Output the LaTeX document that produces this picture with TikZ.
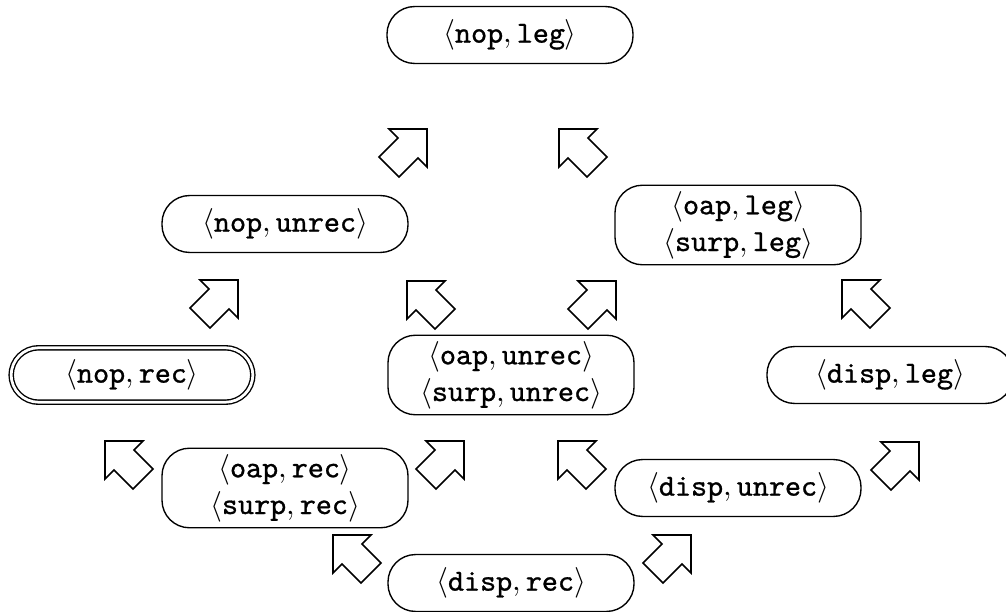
\documentclass[tikz,border=0pt]{standalone}
\usepackage{fontspec}
\setmonofont{Latin Modern Mono}[FakeBold=0.9]
\usetikzlibrary{positioning}
\newcommand{\pr}[2]{$\langle\texttt{#1},\texttt{#2}\rangle$}
\tikzset{
  st/.style={draw, rounded corners=9pt, minimum width=80.4pt, minimum height=18.6pt, inner sep=2pt, align=center, line width=0.45pt},
  st2/.style={st, minimum height=24.8pt},
  arrowline/.style={draw, line width=0.5pt, line join=miter},
  arrNE/.pic={\draw[arrowline] (-14,-24) -- (24,-24) -- (24,14) -- (15,5) -- (-4,24) -- (-24,4) -- (-5,-15) -- cycle;},
  arrNW/.pic={\draw[arrowline] (14,-24) -- (-24,-24) -- (-24,14) -- (-15,5) -- (4,24) -- (24,4) -- (5,-15) -- cycle;}
}
\begin{document}
\begin{tikzpicture}[x=0.3268pt, y=-0.3268pt]
\useasboundingbox (0,0) rectangle (1006,612);
% nodes
\node[st] (nopleg) at (510,35) {\pr{nop}{leg}};
\node[st] (nopunrec) at (285,224) {\pr{nop}{unrec}};
\node[st2] (oapleg) at (738,225) {\pr{oap}{leg}\\\pr{surp}{leg}};
\node[st, double, double distance=0.9pt, minimum width=79pt, minimum height=17.8pt] (noprec) at (132,375) {\pr{nop}{rec}};
\node[st2] (oapunrec) at (511,375) {\pr{oap}{unrec}\\\pr{surp}{unrec}};
\node[st] (displeg) at (890,375) {\pr{disp}{leg}};
\node[st2] (oaprec) at (285,488) {\pr{oap}{rec}\\\pr{surp}{rec}};
\node[st] (dispunrec) at (738,488) {\pr{disp}{unrec}};
\node[st] (disprec) at (511,583) {\pr{disp}{rec}};
% arrows
\pic at (403,153) {arrNE};
\pic at (583,153) {arrNW};
\pic at (214,304) {arrNE};
\pic at (431,305) {arrNW};
\pic at (592,305) {arrNE};
\pic at (866,304) {arrNW};
\pic at (129,465) {arrNW};
\pic at (440,465) {arrNE};
\pic at (582,465) {arrNW};
\pic at (895,466) {arrNE};
\pic at (357,559) {arrNW};
\pic at (667,559) {arrNE};
\end{tikzpicture}
\end{document}
